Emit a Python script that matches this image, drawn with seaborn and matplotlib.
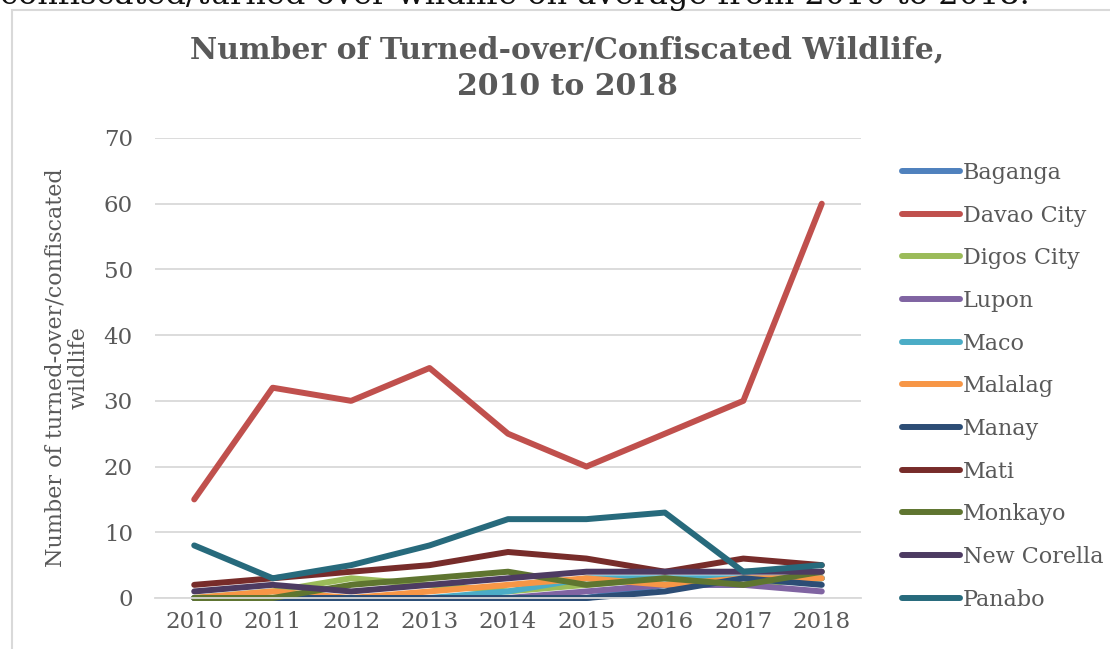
import matplotlib
matplotlib.use("Agg")
import matplotlib.pyplot as plt
from matplotlib.patches import Rectangle
import pandas as pd
import seaborn as sns

years = [2010, 2011, 2012, 2013, 2014, 2015, 2016, 2017, 2018]

baganga     = [0, 0, 0, 0, 0, 0, 2, 2, 3]
davao_city  = [15, 32, 30, 35, 25, 20, 25, 30, 60]
digos_city  = [0, 1, 3, 2, 1, 2, 3, 2, 3]
lupon       = [0, 0, 0, 0, 0, 1, 2, 2, 1]
maco        = [0, 0, 0, 0, 1, 3, 3, 3, 3]
malalag     = [0, 1, 0, 1, 2, 3, 2, 3, 3]
manay       = [0, 0, 0, 0, 0, 0, 1, 3, 2]
mati        = [2, 3, 4, 5, 7, 6, 4, 6, 5]
monkayo     = [0, 0, 2, 3, 4, 2, 3, 2, 4]
new_corella = [1, 2, 1, 2, 3, 4, 4, 4, 4]
panabo      = [8, 3, 5, 8, 12, 12, 13, 4, 5]

places = ["Baganga", "Davao City", "Digos City", "Lupon", "Maco", "Malalag",
          "Manay", "Mati", "Monkayo", "New Corella", "Panabo"]
series = [baganga, davao_city, digos_city, lupon, maco, malalag,
          manay, mati, monkayo, new_corella, panabo]
colors = ["#4F81BD", "#C0504D", "#9BBB59", "#8064A2", "#4BACC6", "#F79646",
          "#2C4D75", "#772C2A", "#5F7530", "#4D3B62", "#276A7C"]

rows = []
for name, vals in zip(places, series):
    for yr, v in zip(years, vals):
        rows.append({"Year": yr, "Place": name, "Count": v})
df = pd.DataFrame(rows)

sns.set_theme(style="white")
plt.rcParams["font.family"] = ["DejaVu Serif"]

LW = 4.3
fig = plt.figure(figsize=(11.10, 6.49), dpi=100)
ax = fig.add_axes([155 / 1110, 1 - 598 / 649, 706 / 1110, 460 / 649])

sns.lineplot(data=df, x="Year", y="Count", hue="Place", hue_order=places,
             palette=dict(zip(places, colors)), linewidth=LW, ax=ax,
             legend=False)
for ln in ax.lines:
    ln.set_solid_capstyle("round")
    ln.set_solid_joinstyle("round")
    ln.set_clip_on(False)

ax.set_xlim(2009.5, 2018.5)
ax.set_ylim(0, 70)
ax.set_xticks(years)
ax.set_xticklabels([str(y) for y in years])
ax.set_yticks(range(0, 71, 10))
ax.grid(axis="y", color="#D9D9D9", linewidth=1.3)
ax.grid(axis="x", visible=False)
ax.set_axisbelow(True)
for side in ["top", "right", "left"]:
    ax.spines[side].set_visible(False)
ax.spines["bottom"].set_color("#D9D9D9")
ax.spines["bottom"].set_linewidth(1.3)
ax.tick_params(axis="both", length=0, labelsize=16.5, colors="#595959")
ax.tick_params(axis="x", pad=9)
ax.tick_params(axis="y", pad=16)
ax.set_xlabel("")
ax.set_ylabel("Number of turned-over/confiscated\nwildlife", fontsize=16,
              color="#595959", labelpad=10, linespacing=1.05)

# legend
handles = [plt.Line2D([0], [0], color=c, linewidth=LW, solid_capstyle="round")
           for c in colors]
leg = fig.legend(handles, places, loc="upper left",
                 bbox_to_anchor=(893 / 1110, 1 - 153 / 649), frameon=False,
                 fontsize=16, handlelength=2.6, handletextpad=0.15,
                 labelspacing=0.93, borderaxespad=0)
for t in leg.get_texts():
    t.set_color("#595959")

# title
fig.text(567 / 1110, 1 - 68 / 649,
         "Number of Turned-over/Confiscated Wildlife,\n2010 to 2018",
         ha="center", va="center", fontsize=21.5, fontweight="bold",
         color="#595959", linespacing=1.35)

# chart frame
fig.patches.append(Rectangle((12 / 1110, -0.05), 1.2, 1 - 10 / 649 + 0.05,
                             transform=fig.transFigure, fill=False,
                             edgecolor="#D9D9D9", linewidth=1.5))

# document sentence above the chart
fig.text(0.0, 1 - 4 / 649,
         "confiscated/turned over wildlife on average from 2010 to 2018.",
         ha="left", va="baseline", fontsize=23, color="#111111")

fig.savefig("out.png", dpi=100)
